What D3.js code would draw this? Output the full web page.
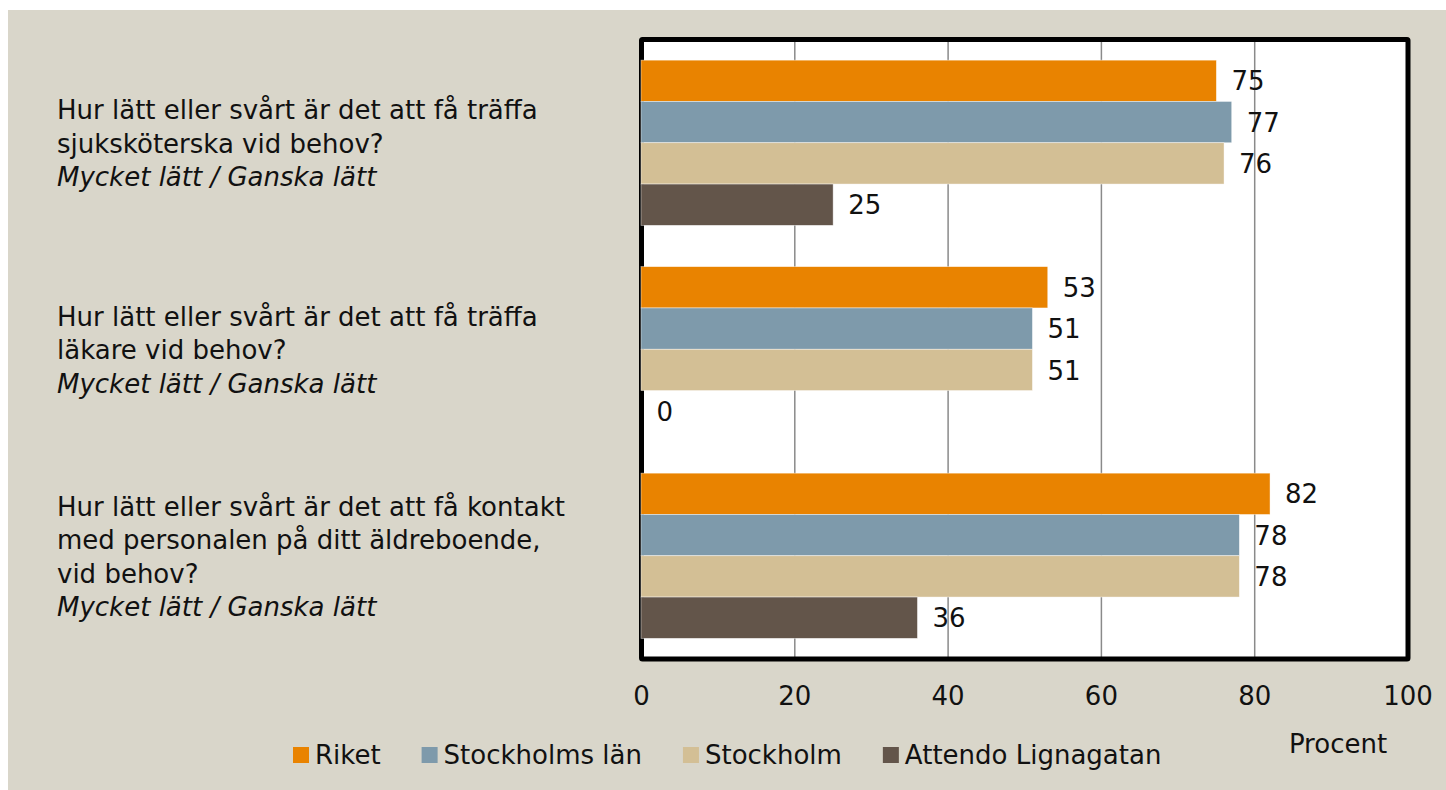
<!DOCTYPE html>
<html><head><meta charset="utf-8">
<script src="https://cdn.jsdelivr.net/npm/d3@7"></script>
<style>
html,body{margin:0;padding:0;background:#fff;}
svg{display:block;}
text{font-family:"DejaVu Sans",sans-serif;fill:#111;}
</style></head>
<body>
<svg id="chart" width="1446" height="790"></svg>
<script>
// ---- data ----
const categories = [
  ["Hur lätt eller svårt är det att få träffa", "sjuksköterska vid behov?", "*Mycket lätt / Ganska lätt"],
  ["Hur lätt eller svårt är det att få träffa", "läkare vid behov?", "*Mycket lätt / Ganska lätt"],
  ["Hur lätt eller svårt är det att få kontakt", "med personalen på ditt äldreboende,", "vid behov?", "*Mycket lätt / Ganska lätt"]
];
const seriesNames = ["Riket", "Stockholms län", "Stockholm", "Attendo Lignagatan"];
const riket = [75, 53, 82];
const stockholmsLan = [77, 51, 78];
const stockholm = [76, 51, 78];
const attendo = [25, 0, 36];
const xTicks = [0, 20, 40, 60, 80, 100];
const axisTitle = "Procent";
const colors = ["#E98300", "#7E9AAB", "#D3BF95", "#63554A"];

const seriesValues = [riket, stockholmsLan, stockholm, attendo];

// ---- layout ----
const svg = d3.select("#chart");
svg.append("rect").attr("x", 8).attr("y", 10).attr("width", 1446 - 8).attr("height", 790 - 10).attr("fill", "#D9D6CA");

const plot = {left: 641.5, top: 39.5, right: 1408, bottom: 659};
const x = d3.scaleLinear().domain([0, 100]).range([plot.left, plot.right]);
const yCat = d3.scaleBand().domain(d3.range(categories.length)).range([plot.top, plot.bottom]).padding(0);
const bw = yCat.bandwidth();
const ySub = d3.scaleBand().domain(d3.range(seriesNames.length)).range([bw * 0.1, bw * 0.9]).padding(0);

// plot background
svg.append("rect").attr("x", plot.left).attr("y", plot.top)
  .attr("width", plot.right - plot.left).attr("height", plot.bottom - plot.top)
  .attr("fill", "#fff");

// gridlines
svg.append("g").selectAll("line").data(xTicks.filter(t => t > 0 && t < 100)).join("line")
  .attr("x1", d => x(d)).attr("x2", d => x(d))
  .attr("y1", plot.top).attr("y2", plot.bottom)
  .attr("stroke", "#8a8a8a").attr("stroke-width", 1.5);

// border
svg.append("rect").attr("x", plot.left).attr("y", plot.top)
  .attr("width", plot.right - plot.left).attr("height", plot.bottom - plot.top)
  .attr("fill", "none").attr("stroke", "#000").attr("stroke-width", 5).attr("rx", 1);

// bars
const barData = [];
categories.forEach((c, ci) => seriesNames.forEach((s, si) => barData.push({ci, si, v: seriesValues[si][ci]})));
const gBars = svg.append("g");
gBars.selectAll("rect").data(barData.filter(d => d.v > 0)).join("rect")
  .attr("x", x(0) - 0.5)
  .attr("y", d => yCat(d.ci) + ySub(d.si))
  .attr("width", d => x(d.v) - x(0) + 0.5)
  .attr("height", ySub.bandwidth())
  .attr("fill", d => colors[d.si])
  .attr("stroke", "#fff").attr("stroke-width", 0.7).attr("stroke-opacity", 0.6);

// value labels
svg.append("g").selectAll("text").data(barData).join("text")
  .attr("x", d => x(d.v) + 15)
  .attr("y", d => yCat(d.ci) + ySub(d.si) + ySub.bandwidth() / 2)
  .attr("dy", "0.37em")
  .attr("font-size", 26)
  .text(d => d.v);

// x axis tick labels
svg.append("g").selectAll("text").data(xTicks).join("text")
  .attr("x", d => x(d)).attr("y", 705)
  .attr("text-anchor", "middle").attr("font-size", 26)
  .text(d => d);

svg.append("text").attr("x", 1338).attr("y", 753).attr("text-anchor", "middle")
  .attr("font-size", 26).text(axisTitle);

// category labels
const lineH = 33.5;
const gCat = svg.append("g");
categories.forEach((lines, ci) => {
  const cy = yCat(ci) + bw / 2;
  const n = lines.length;
  const firstBase = cy - (n - 1) * lineH / 2 + 10;
  lines.forEach((ln, li) => {
    const it = ln.startsWith("*");
    gCat.append("text").attr("x", 57).attr("y", firstBase + li * lineH)
      .attr("font-size", 26)
      .attr("font-style", it ? "italic" : "normal")
      .text(it ? ln.slice(1) : ln);
  });
});

// legend
const gLeg = svg.append("g");
let lx = 293;
seriesNames.forEach((s, i) => {
  gLeg.append("rect").attr("x", lx).attr("y", 747).attr("width", 16).attr("height", 16).attr("fill", colors[i]);
  const t = gLeg.append("text").attr("x", lx + 22).attr("y", 764).attr("font-size", 26).text(s);
  lx += 22 + t.node().getComputedTextLength() + 41;
});
</script>
</body></html>
